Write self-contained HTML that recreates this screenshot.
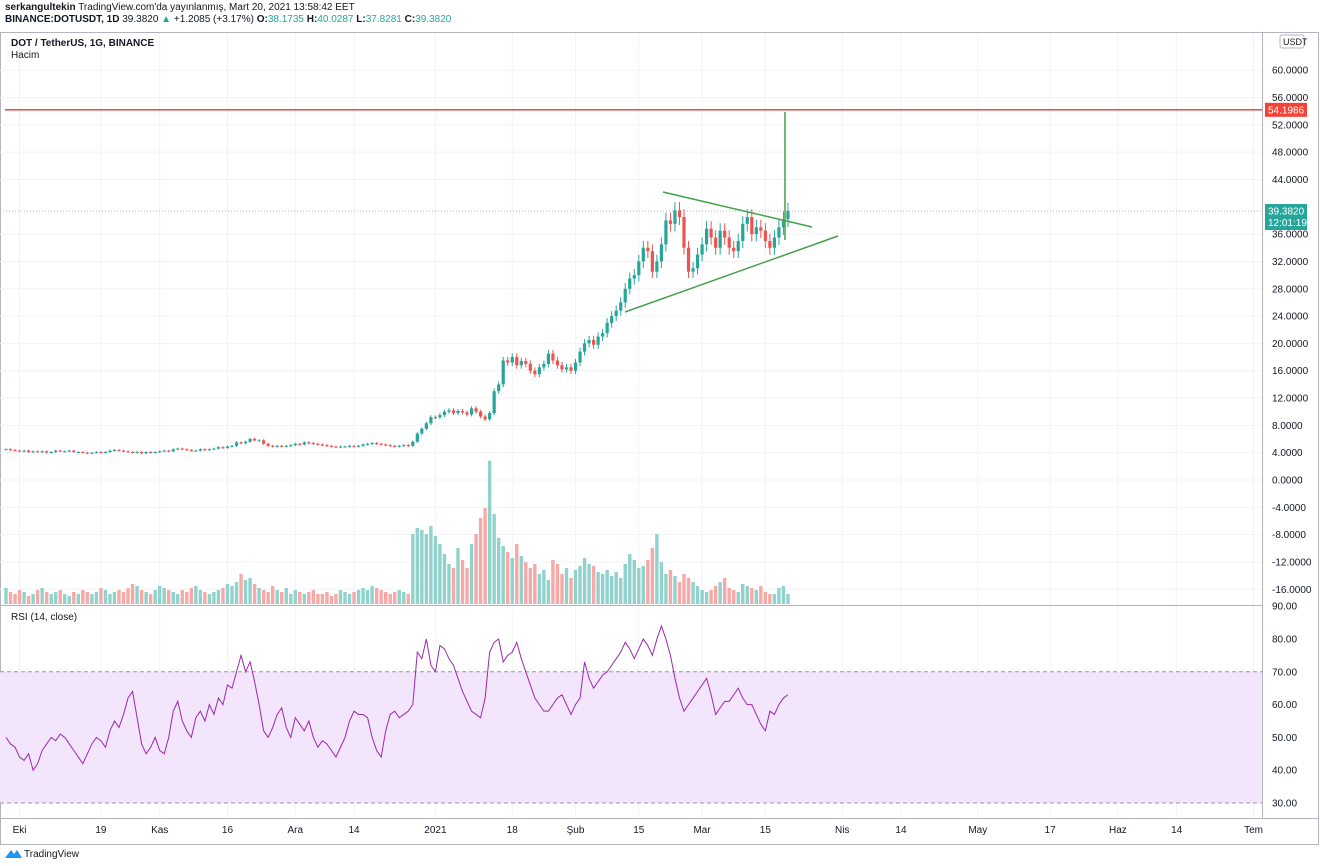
<!DOCTYPE html>
<html><head><meta charset="utf-8"><style>
body{margin:0;background:#fff;font-family:"Liberation Sans",sans-serif;}
#hdr{position:absolute;left:5px;top:2px;font-size:10px;color:#131722;line-height:12px}
svg{position:absolute;left:0;top:0}
text{font-family:"Liberation Sans",sans-serif}
</style></head><body>
<div id="hdr"><div><b>serkangultekin</b> TradingView.com'da yayınlanmış, Mart 20, 2021 13:58:42 EET</div>
<div><b>BINANCE:DOTUSDT, 1D</b> 39.3820 <span style="color:#26a69a">▲</span> +1.2085 (+3.17%) <b>O:</b><span style="color:#26a69a">38.1735</span> <b>H:</b><span style="color:#26a69a">40.0287</span> <b>L:</b><span style="color:#26a69a">37.8281</span> <b>C:</b><span style="color:#26a69a">39.3820</span></div></div>
<svg id="c" width="1320" height="866"></svg>
<script>
const closes=[4.5,4.4,4.3,4.2,4.3,4.1,4.2,4.1,4.2,4.0,4.1,4.3,4.2,4.2,4.3,4.1,4.1,4.0,3.9,4.0,4.1,4.0,4.1,4.3,4.4,4.3,4.2,4.1,4.0,4.1,3.9,4.1,4.0,4.1,4.2,4.3,4.2,4.5,4.6,4.5,4.4,4.3,4.3,4.5,4.4,4.5,4.6,4.8,4.7,4.9,5.0,5.5,5.4,5.6,6.0,5.8,5.8,5.3,5.0,4.9,5.0,4.9,5.0,5.1,5.3,5.2,5.5,5.4,5.3,5.2,5.1,5.0,4.9,4.8,4.9,4.9,5.0,4.9,5.0,5.2,5.3,5.4,5.3,5.2,5.1,5.0,4.9,5.0,5.1,5.0,
5.6,6.8,7.5,8.3,9.2,
9.2,9.5,10.0,10.2,9.8,10.1,9.9,9.6,10.5,10.0,9.3,8.9,9.8,13.0,14.0,17.5,17.2,18.0,16.8,17.4,17.0,16.0,15.5,16.5,17.0,18.5,17.5,16.8,16.2,16.5,16.0,
17.2,18.8,20.0,20.5,19.8,21.0,21.5,23.0,24.0,24.8,26.0,28.0,29.5,30.0,32.0,34.0,33.5,30.5,32.0,34.5,38.0,37.5,39.5,38.5,34.0,30.5,31.0,33.0,
34.5,36.8,35.5,34.0,36.5,35.5,34.0,33.5,35.0,37.5,38.5,36.0,37.0,36.5,35.0,34.0,35.5,37.0,38.17,39.38];
const volumes=[16,12,10,14,12,8,10,14,16,12,10,12,14,10,8,12,10,14,12,10,12,16,14,10,12,14,12,16,20,18,14,12,10,14,18,16,14,12,10,14,12,16,18,14,12,10,12,14,16,20,18,22,30,24,26,20,16,14,12,18,14,12,16,10,14,12,10,12,14,10,10,12,8,10,14,12,10,12,14,16,14,18,16,14,12,10,12,14,12,10,70,76,74,70,78,68,60,50,40,36,56,44,36,60,70,86,96,143,90,66,58,52,46,60,48,42,36,40,30,34,24,44,40,30,36,26,34,38,46,40,38,32,30,34,28,32,26,40,50,44,36,38,44,56,70,42,30,34,28,22,30,26,22,18,14,12,14,18,22,26,16,14,12,20,18,16,14,18,12,10,10,16,18,10];
const rsi=[50,48,47,44,43,45,40,42,46,48,50,49,51,50,48,46,44,42,45,48,50,49,47,52,55,53,57,62,64,56,48,45,47,50,46,45,50,58,61,55,52,50,56,58,55,60,57,62,60,66,65,70,75,70,73,67,60,52,50,53,57,59,53,50,56,54,52,55,50,47,49,48,46,44,47,50,55,58,57,57,56,50,46,44,52,
57,58,56,57,58,
60,76,74,80,72,70,78,77,74,72,
68,64,61,58,57,56,62,76,79,80,
73,75,76,79,74,70,66,62,60,58,
58,60,62,63,60,57,60,62,73,68,
65,67,69,70,72,74,76,79,77,74,
77,80,78,75,80,84,80,75,68,62,
58,60,62,64,66,68,63,57,59,61,
61,63,65,62,60,60,57,54,52,58,
57,60,62,63];
const priceTicks=[60,56,52,48,44,36,32,28,24,20,16,12,8,4,0,-4,-8,-12,-16];
const rsiTicks=[90,80,70,60,50,40,30];
const timeLabels=["Eki","19","Kas","16","Ara","14","2021","18","Şub","15","Mar","15","Nis","14","May","17","Haz","14","Tem"];
const timeDays=[3,21,34,49,64,77,95,112,126,140,154,168,185,198,215,231,246,259,276];
const S=document.getElementById('c'),NS='http://www.w3.org/2000/svg';
function el(t,a,p){const e=document.createElementNS(NS,t);for(const k in a)e.setAttribute(k,a[k]);(p||S).appendChild(e);return e;}
const X=i=>6+4.52*i, Y=v=>480-6.83*v, VY=v=>604-v, RY=v=>803-(v-30)*3.28;
const R=1262;
let f=el('rect',{x:0.5,y:32.5,width:1318,height:812,fill:'none',stroke:'#b2b5be'});


timeDays.forEach((d,k)=>{let g=el('line',{x1:X(d),x2:X(d),y1:33,y2:818,stroke:'#f0f3fa'});


let t=el('text',{x:X(d),y:833,'font-size':10,fill:'#131722','text-anchor':'middle'});t.textContent=timeLabels[k];

});
priceTicks.forEach(v=>{let g=el('line',{x1:0,x2:R,y1:Y(v),y2:Y(v),stroke:'#f0f3fa'});


let t=el('text',{x:1272,y:Y(v)+3.5,'font-size':10,fill:'#131722'});t.textContent=v.toFixed(4);

});
el('line',{x1:R+0.5,x2:R+0.5,y1:33,y2:818,stroke:'#b2b5be'});
el('line',{x1:0,x2:R,y1:605.5,y2:605.5,stroke:'#b2b5be'});
el('line',{x1:0,x2:1319,y1:818.5,y2:818.5,stroke:'#b2b5be'});
let band=el('rect',{x:0,y:RY(70),width:R,height:RY(30)-RY(70),fill:'#f3e5fc'});


[70,30].forEach(v=>el('line',{x1:0,x2:R,y1:RY(v),y2:RY(v),stroke:'#9598a1','stroke-dasharray':'4,3'}));
rsiTicks.forEach(v=>{let t=el('text',{x:1272,y:RY(v)+3.5,'font-size':10,fill:'#131722'});t.textContent=v.toFixed(2);

});
closes.forEach((c,i)=>{const o=i?closes[i-1]:c;const up=c>=o;
let vb=el('rect',{x:X(i)-1.7,y:VY(volumes[i]),width:3.4,height:volumes[i],fill:up?'#92d2cc':'#f7a9a7'});


const hi=Math.max(o,c)*1.03,lo=Math.min(o,c)*0.97,col=up?'#26a69a':'#ef5350';
el('line',{x1:X(i),x2:X(i),y1:Y(hi),y2:Y(lo),stroke:col});
let b=el('rect',{x:X(i)-1.6,y:Y(Math.max(o,c)),width:3.2,height:Math.max(1,Y(Math.min(o,c))-Y(Math.max(o,c))),fill:col});

});
let rp=el('polyline',{points:rsi.map((v,i)=>X(i)+','+RY(v)).join(' '),fill:'none',stroke:'#9c27b0','stroke-width':1});


el('line',{x1:0,x2:R,y1:Y(39.382),y2:Y(39.382),stroke:'#b2b5be','stroke-dasharray':'1,2'});
let rl=el('line',{x1:5,x2:R,y1:Y(54.1986),y2:Y(54.1986),stroke:'#e53935','stroke-width':1.3});


[[663,192,812,227],[625,312,838,236],[785,112,785,240]].forEach(l=>{let g=el('line',{x1:l[0],y1:l[1],x2:l[2],y2:l[3],stroke:'#43a047','stroke-width':1.5});

});
function lab(v,bg,txt,h){el('rect',{x:1265,y:Y(v)-7,width:42,height:h,fill:bg});let t=el('text',{x:1268,y:Y(v)+3.5,'font-size':10,fill:'#fff'});t.textContent=txt;return t;}
let l1=lab(54.1986,'#f44336','54.1986',14);


let l2=lab(39.382,'#26a69a','39.3820',26);


let t2=el('text',{x:1268,y:Y(39.382)+15,'font-size':10,fill:'#fff'});t2.textContent='12:01:19';
el('rect',{x:1280,y:35,width:24,height:13,fill:'#fff',stroke:'#b2b5be',rx:2});
let u=el('text',{x:1283,y:45,'font-size':9,fill:'#131722'});u.textContent='USDT';


let lg=el('text',{x:11,y:46,'font-size':10,'font-weight':'bold',fill:'#131722'});lg.textContent='DOT / TetherUS, 1G, BINANCE';


let lh=el('text',{x:11,y:58,'font-size':10,fill:'#131722'});lh.textContent='Hacim';


let lr=el('text',{x:11,y:620,'font-size':10,fill:'#131722'});lr.textContent='RSI (14, close)';


let logo=el('text',{x:24,y:857,'font-size':10,fill:'#131722'});logo.textContent='TradingView';


el('path',{d:'M5 858 L11 850 L14 854 L17 850 L22 858 Z',fill:'#2196f3'});
</script></body></html>
